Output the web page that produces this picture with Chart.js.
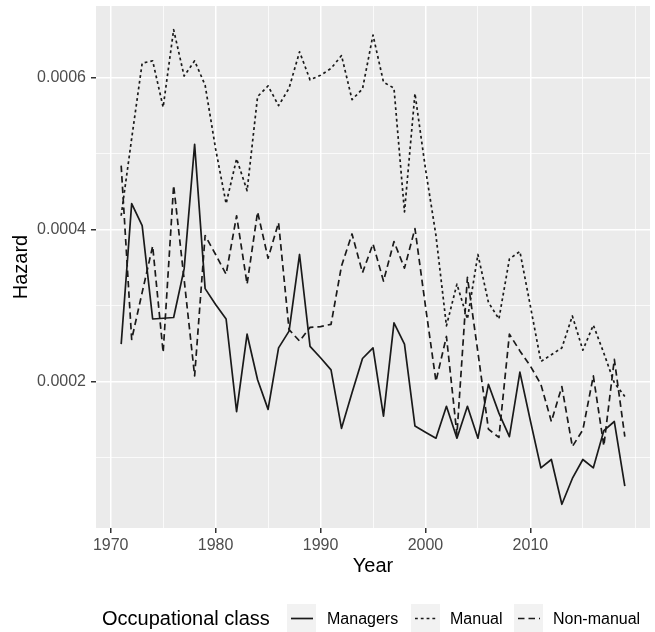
<!DOCTYPE html>
<html>
<head>
<meta charset="utf-8">
<title>Hazard by occupational class</title>
<script src="https://cdn.jsdelivr.net/npm/chart.js@4.4.1/dist/chart.umd.min.js"></script>
<style>
  html, body { margin: 0; padding: 0; background: #fff; }
  #wrap { position: relative; width: 655px; height: 632px; font-family: "Liberation Sans", Arial, sans-serif; }
  #chart { position: absolute; left: 0; top: 0; }
  .legend-title { position: absolute; left: 102px; top: 606px; font-size: 20px; line-height: 24px; color: #000; white-space: nowrap; }
  .legend-key { position: absolute; top: 604px; width: 29px; height: 29px; background: #F2F2F2; }
  .legend-key svg { display: block; }
  .legend-label { position: absolute; top: 609px; font-size: 16px; line-height: 19px; color: #000; white-space: nowrap; }
</style>
</head>
<body>
<div id="wrap">
  <canvas id="chart" width="655" height="632"></canvas>
  <div id="legend"></div>
</div>

<script>
/* ── DATA ─────────────────────────────────────────────────── */
const years = [
  1971, 1972, 1973, 1974, 1975, 1976, 1977, 1978, 1979, 1980,
  1981, 1982, 1983, 1984, 1985, 1986, 1987, 1988, 1989, 1990,
  1991, 1992, 1993, 1994, 1995, 1996, 1997, 1998, 1999, 2000,
  2001, 2002, 2003, 2004, 2005, 2006, 2007, 2008, 2009, 2010,
  2011, 2012, 2013, 2014, 2015, 2016, 2017, 2018, 2019
];

const managers = [
  0.000249, 0.000434, 0.000405, 0.000282, 0.000283, 0.000284, 0.000348, 0.000512, 0.000322, 0.000301,
  0.000282, 0.000160, 0.000262, 0.000202, 0.000163, 0.000244, 0.000266, 0.000367, 0.000246, 0.000231,
  0.000215, 0.000138, 0.000185, 0.000230, 0.000244, 0.000154, 0.000277, 0.000249, 0.000141, 0.000133,
  0.000125, 0.000167, 0.000125, 0.000167, 0.000125, 0.000196, 0.000158, 0.000127, 0.000212, 0.000148,
  0.000086, 0.000097, 0.000038, 0.000072, 0.000097, 0.000086, 0.000135, 0.000147, 0.000062
];

const manual = [
  0.000418, 0.000520, 0.000619, 0.000622, 0.000561, 0.000663, 0.000602, 0.000622, 0.000590, 0.000506,
  0.000434, 0.000493, 0.000451, 0.000575, 0.000589, 0.000563, 0.000586, 0.000634, 0.000597, 0.000603,
  0.000612, 0.000629, 0.000571, 0.000585, 0.000656, 0.000594, 0.000586, 0.000423, 0.000579, 0.000480,
  0.000392, 0.000273, 0.000328, 0.000282, 0.000367, 0.000304, 0.000282, 0.000361, 0.000371, 0.000299,
  0.000226, 0.000235, 0.000244, 0.000286, 0.000241, 0.000274, 0.000237, 0.000198, 0.000180
];

const nonManual = [
  0.000484, 0.000255, 0.000317, 0.000378, 0.000238, 0.000458, 0.000334, 0.000207, 0.000392, 0.000367,
  0.000341, 0.000418, 0.000328, 0.000423, 0.000362, 0.000409, 0.000268, 0.000253, 0.000271, 0.000272,
  0.000275, 0.000352, 0.000394, 0.000343, 0.000381, 0.000332, 0.000384, 0.000349, 0.000401, 0.000299,
  0.000200, 0.000259, 0.000130, 0.000337, 0.000238, 0.000137, 0.000126, 0.000262, 0.000240, 0.000220,
  0.000196, 0.000147, 0.000193, 0.000114, 0.000136, 0.000207, 0.000115, 0.000229, 0.000127
];

const seriesNames = ['Managers', 'Manual', 'Non-manual'];

const xMajorTicks = [1970, 1980, 1990, 2000, 2010];
const xMinorTicks = [1975, 1985, 1995, 2005, 2015, 2020];
const yMajorTicks = [0.0002, 0.0004, 0.0006];
const yMinorTicks = [0.0001, 0.0003, 0.0005];

/* ── STYLE ────────────────────────────────────────────────── */
const LINE_COLOR = '#1a1a1a';
const LINE_WIDTH = 1.7;
const dashFor = { 'Managers': [], 'Manual': [2.8, 3], 'Non-manual': [6.5, 4] };

/* ── HELPERS ──────────────────────────────────────────────── */
function toPoints(vals) {
  return years.map((yr, i) => ({ x: yr, y: vals[i] }));
}
function inList(list, v) {
  return list.some(m => Math.abs(m - v) < 1e-9);
}
// drop Chart.js' label-overflow padding so the panel sits where ggplot put it
function noPadding(s) {
  s.paddingTop = 0; s.paddingBottom = 0; s.paddingLeft = 0; s.paddingRight = 0;
}

// ggplot-style 5% expansion of the data range
const allVals = managers.concat(manual, nonManual);
const yLo = Math.min(...allVals), yHi = Math.max(...allVals);
const yPad = (yHi - yLo) * 0.05;
const xFirst = years[0], xLast = years[years.length - 1];
const xPad = (xLast - xFirst) * 0.05;

const panelBg = {
  id: 'panelBg',
  beforeDraw(chart) {
    const { ctx, chartArea: a } = chart;
    ctx.save();
    ctx.fillStyle = '#EBEBEB';
    ctx.fillRect(a.left, a.top, a.right - a.left, a.bottom - a.top);
    ctx.restore();
  }
};

Chart.defaults.font.family = '"Liberation Sans", Arial, sans-serif';

const seriesValues = [managers, manual, nonManual];

new Chart(document.getElementById('chart'), {
  type: 'line',
  data: {
    datasets: seriesNames.map((name, i) => ({
      label: name,
      data: toPoints(seriesValues[i]),
      borderColor: LINE_COLOR,
      borderWidth: LINE_WIDTH,
      borderDash: dashFor[name],
      borderCapStyle: 'butt',
      borderJoinStyle: 'round',
      pointRadius: 0,
      tension: 0,
      fill: false
    }))
  },
  options: {
    responsive: false,
    animation: false,
    devicePixelRatio: 1,
    layout: { padding: { left: 0, right: 5, top: 6, bottom: 54 } },
    plugins: {
      legend: { display: false },
      tooltip: { enabled: false }
    },
    scales: {
      x: {
        type: 'linear',
        min: xFirst - xPad,
        max: xLast + xPad,
        afterBuildTicks: s => {
          s.ticks = xMajorTicks.concat(xMinorTicks).sort((a, b) => a - b).map(v => ({ value: v }));
        },
        afterFit: s => { s.height = 50; noPadding(s); },
        border: { display: false },
        grid: {
          color: '#FFFFFF',
          lineWidth: c => inList(xMajorTicks, c.tick.value) ? 1.5 : 0.75,
          drawTicks: true,
          tickLength: 5,
          tickWidth: 1.5,
          tickColor: c => inList(xMajorTicks, c.tick.value) ? '#333333' : 'rgba(0,0,0,0)'
        },
        ticks: {
          color: '#4D4D4D',
          font: { size: 16 },
          padding: 3,
          maxRotation: 0,
          autoSkip: false,
          callback: v => inList(xMajorTicks, v) ? String(v) : ''
        },
        title: {
          display: true, text: 'Year', color: '#000000',
          font: { size: 20 }, padding: { top: 0, bottom: 0 }
        }
      },
      y: {
        type: 'linear',
        min: yLo - yPad,
        max: yHi + yPad,
        afterBuildTicks: s => {
          s.ticks = yMajorTicks.concat(yMinorTicks).sort((a, b) => a - b).map(v => ({ value: v }));
        },
        afterFit: s => { s.width = 96; noPadding(s); },
        border: { display: false },
        grid: {
          color: '#FFFFFF',
          lineWidth: c => inList(yMajorTicks, c.tick.value) ? 1.5 : 0.75,
          drawTicks: true,
          tickLength: 5,
          tickWidth: 1.5,
          tickColor: c => inList(yMajorTicks, c.tick.value) ? '#333333' : 'rgba(0,0,0,0)'
        },
        ticks: {
          color: '#4D4D4D',
          font: { size: 16 },
          padding: 5,
          autoSkip: false,
          callback: v => inList(yMajorTicks, v) ? v.toFixed(4) : ''
        },
        title: {
          display: true, text: 'Hazard', color: '#000000',
          font: { size: 20 }, padding: { top: 9, bottom: 0 }
        }
      }
    }
  },
  plugins: [panelBg]
});

/* ── LEGEND (ggplot-style, one row under the x title) ─────── */
(function buildLegend() {
  const legend = document.getElementById('legend');
  const keyLefts = [287, 411, 514];
  const labelLefts = [327, 450, 553];

  const title = document.createElement('div');
  title.className = 'legend-title';
  title.textContent = 'Occupational class';
  legend.appendChild(title);

  seriesNames.forEach((name, i) => {
    const key = document.createElement('div');
    key.className = 'legend-key';
    key.style.left = keyLefts[i] + 'px';
    const dash = dashFor[name].length ? dashFor[name].join(' ') : 'none';
    key.innerHTML =
      '<svg width="29" height="29"><line x1="4" y1="14.5" x2="26" y2="14.5" stroke="' + LINE_COLOR +
      '" stroke-width="' + LINE_WIDTH + '" stroke-dasharray="' + dash + '"/></svg>';
    legend.appendChild(key);

    const label = document.createElement('div');
    label.className = 'legend-label';
    label.style.left = labelLefts[i] + 'px';
    label.textContent = name;
    legend.appendChild(label);
  });
})();
</script>
</body>
</html>
